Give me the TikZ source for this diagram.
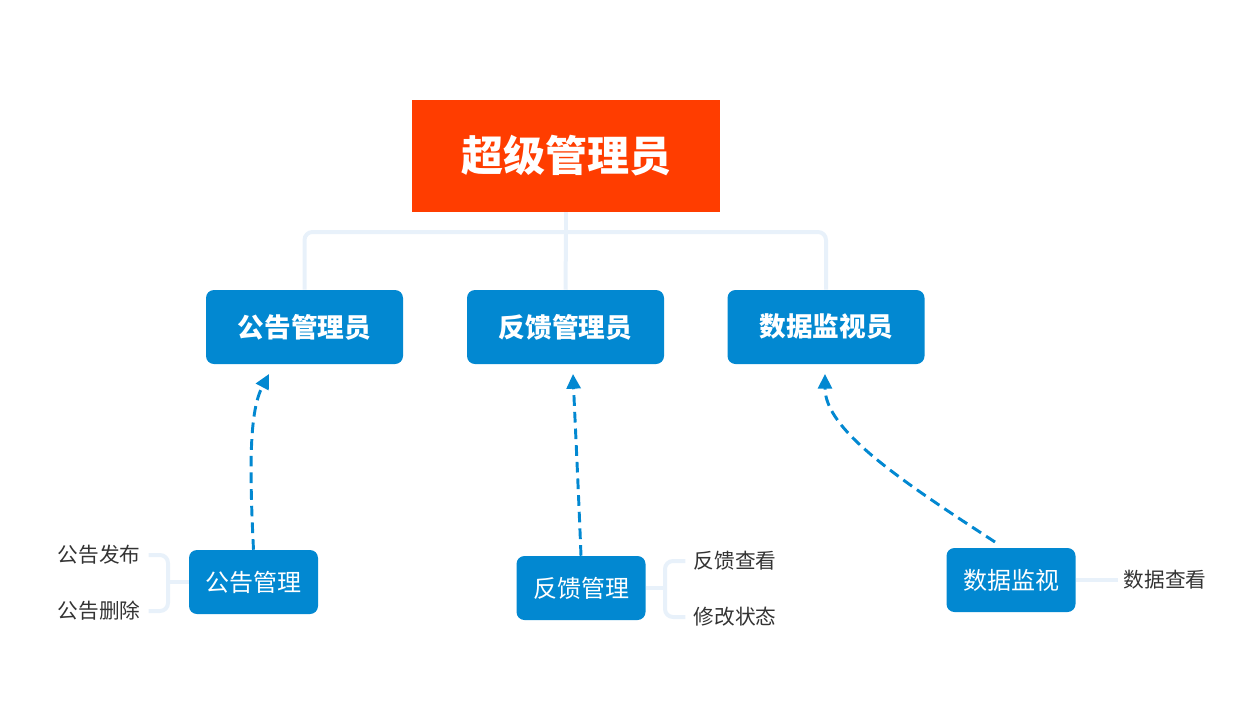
\documentclass[tikz,border=0pt]{standalone}
\usepackage{fontspec}
\newfontfamily\cjk{Noto Sans CJK SC}
\usetikzlibrary{arrows.meta,calc}
\definecolor{topred}{HTML}{FF3D00}
\definecolor{boxblue}{HTML}{0288D1}
\definecolor{treeline}{HTML}{E8F1FA}
\definecolor{leaftext}{HTML}{333333}
\tikzset{
  topbox/.style={fill=topred, text=white, minimum width=231pt, minimum height=84pt, inner sep=0pt, font=\cjk\bfseries\fontsize{31.5}{36}\selectfont},
  midbox/.style={fill=boxblue, text=white, rounded corners=6pt, minimum width=147.75pt, minimum height=55.5pt, inner sep=0pt, font=\cjk\bfseries\fontsize{20}{24}\selectfont},
  lowbox/.style={fill=boxblue, text=white, rounded corners=6pt, minimum width=96.75pt, minimum height=48pt, inner sep=0pt, font=\cjk\fontsize{18}{22}\selectfont},
  leaf/.style={text=leaftext, inner sep=0pt, font=\cjk\fontsize{15.5}{19}\selectfont},
  tree/.style={draw=treeline, line width=3pt, rounded corners=6pt},
  dasharrow/.style={draw=boxblue, line width=2.2pt, dash pattern=on 8pt off 4.5pt, -{Triangle[length=11pt,width=10.5pt]}},
}
\begin{document}
\begin{tikzpicture}[x=0.75pt, y=-0.75pt]
\useasboundingbox (0,0) rectangle (1258,711);
% nodes
\node[topbox] (top) at (566,156) {超级管理员};
\node[midbox] (m1) at (304.5,327) {公告管理员};
\node[midbox] (m2) at (565.5,327) {反馈管理员};
\node[midbox] (m3) at (826,327) {数据监视员};
\node[lowbox] (g1) at (253.5,582) {公告管理};
\node[lowbox] (g2) at (581,588) {反馈管理};
\node[lowbox] (g3) at (1011,580) {数据监视};
\node[leaf] (a1) at (99,555) {公告发布};
\node[leaf] (a2) at (99,611) {公告删除};
\node[leaf] (b1) at (735,561) {反馈查看};
\node[leaf] (b2) at (735,617) {修改状态};
\node[leaf] (c1) at (1165,580) {数据查看};
% top tree
\coordinate (bar) at (566,232);
\draw[tree] (top.south) -- (bar);
\draw[tree] (m1.north) |- (bar) -| (m3.north);
\draw[tree] (bar) -- (m2.north);
% leaf brackets
\coordinate (ja) at (168,582);
\draw[tree] (g1.west) -- (ja);
\draw[tree] ([xshift=6pt]a1.east) -| (ja) |- ([xshift=6pt]a2.east);
\coordinate (jb) at (665,588);
\draw[tree] (g2.east) -- (jb);
\draw[tree] ([xshift=-6pt]b1.west) -| (jb) |- ([xshift=-6pt]b2.west);
\draw[tree] (g3.east) -- ([xshift=-4pt]c1.west);
% dashed arrows
\coordinate (e1) at (269,374);
\coordinate (e2) at (573,374);
\coordinate (e3) at (825,374);
\coordinate (s3) at (995,542);
\draw[dasharrow] (g1.north) .. controls (249,460) and (250,410) .. (e1);
\draw[dasharrow] (g2.north) .. controls (578,480) and (575,420) .. (e2);
\draw[dasharrow] (s3) .. controls (900,480) and (825,430) .. (e3);
\end{tikzpicture}
\end{document}
